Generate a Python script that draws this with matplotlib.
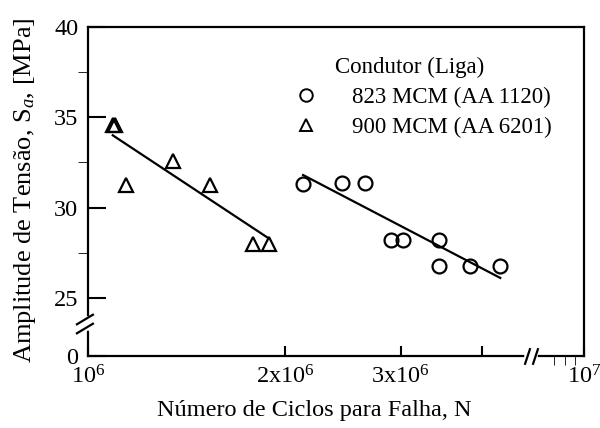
import numpy as np
import matplotlib
matplotlib.use('Agg')
import matplotlib.pyplot as plt
from matplotlib.lines import Line2D

plt.rcParams['font.family'] = ['Liberation Serif', 'DejaVu Serif']
plt.rcParams['mathtext.fontset'] = 'custom'
plt.rcParams['mathtext.rm'] = 'Liberation Serif'
plt.rcParams['mathtext.it'] = 'Liberation Serif:italic'

# 823 MCM (AA 1120) -> circles
n_1120 = [2.13e6, 2.44e6, 2.65e6, 2.90e6, 3.03e6, 3.43e6, 3.43e6, 3.83e6, 4.25e6]
s_1120 = [31.3, 31.35, 31.35, 28.2, 28.2, 28.2, 26.75, 26.75, 26.75]
fit_n_1120 = [2.13e6, 4.26e6]
fit_s_1120 = [31.8, 26.1]

# 900 MCM (AA 6201) -> triangles
n_6201 = [1.093e6, 1.10e6, 1.142e6, 1.35e6, 1.536e6, 1.786e6, 1.891e6]
s_6201 = [34.55, 34.55, 31.25, 32.55, 31.25, 28.0, 28.0]
fit_n_6201 = [1.091e6, 1.877e6]
fit_s_6201 = [34.0, 28.35]

xticks = [1e6, 2e6, 3e6, 4e6, 1e7]
xtick_labels = ['$10^6$', '2x10$^6$', '3x10$^6$', '', '$10^7$']
xticks_minor = [7e6, 8e6, 9e6]
yticks = [0, 25, 30, 35, 40]
yticks_minor = [27.5, 32.5, 37.5]

# broken axes: log x squeezed after x_break, y squeezed below 25
x_break = 4.5e6
x_k = 0.3
y_gap = 25
y_c = 0.129


def fwd_x(x):
    lx = np.log10(np.clip(np.asarray(x, float), 1e-12, None))
    lb = np.log10(x_break)
    return np.where(lx <= lb, lx, lb + (lx - lb) * x_k)


def inv_x(u):
    u = np.asarray(u, float)
    lb = np.log10(x_break)
    with np.errstate(over='ignore'):
        return np.where(u <= lb, 10 ** u, 10 ** (lb + (u - lb) / x_k))


def fwd_y(y):
    y = np.asarray(y, float)
    return np.where(y >= y_gap, y, y_gap - (y_gap - y) * y_c)


def inv_y(f):
    f = np.asarray(f, float)
    return np.where(f >= y_gap, f, y_gap - (y_gap - f) / y_c)


fig = plt.figure(figsize=(6, 4.28), dpi=100)
ax = fig.add_axes([88 / 600, 72 / 428, 496 / 600, 329 / 428])
ax.set_xscale('function', functions=(fwd_x, inv_x))
ax.set_yscale('function', functions=(fwd_y, inv_y))

ax.plot(n_1120, s_1120, 'o', ms=10, mfc='none', mec='k', mew=1.6, zorder=3)
ax.plot(n_6201, s_6201, '^', ms=9.5, mfc='none', mec='k', mew=1.6, zorder=3)
ax.plot(fit_n_1120, fit_s_1120, 'k-', lw=1.6)
ax.plot(fit_n_6201, fit_s_6201, 'k-', lw=1.6)

ax.set_xlim(1e6, 1e7)
ax.set_ylim(0, 40)
ax.set_xticks(xticks, labels=xtick_labels)
ax.set_xticks(xticks_minor, minor=True)
ax.set_yticks(yticks)
ax.set_yticks(yticks_minor, minor=True)
ax.yaxis.set_major_formatter(plt.FixedFormatter([str(v) for v in yticks]))
ax.yaxis.set_minor_formatter(plt.NullFormatter())
ax.xaxis.set_minor_formatter(plt.NullFormatter())

ax.tick_params(direction='in', labelsize=17.5, width=1.5)
ax.tick_params(axis='y', which='major', length=13, pad=7)
ax.tick_params(axis='y', which='minor', length=7)
ax.tick_params(axis='x', which='major', length=7, pad=7)
ax.tick_params(axis='x', which='minor', length=6.5)
for sp in ax.spines.values():
    sp.set_linewidth(1.6)

# break marks
yb = [12.0, 16.0]
ax.plot([1e6, 1e6], yb, color='white', lw=4, clip_on=False, zorder=5)
ax.plot([1e6, 1e6], yb, ls='none', marker=[(-1.4, -0.6), (0.6, 0.6)], ms=18, mec='k', mew=1.6,
        clip_on=False, zorder=6)
xb = [5.1e6, 5.6e6]
ax.plot(xb, [0, 0], color='white', lw=4, clip_on=False, zorder=5)
ax.plot(xb, [0, 0], ls='none', marker=[(-0.33, -1), (0.33, 1)], ms=12, mec='k', mew=1.6,
        clip_on=False, zorder=6)

ax.set_xlabel('Número de Ciclos para Falha, N', fontsize=17.5)
ax.xaxis.set_label_coords(0.456, -0.135)
ax.set_ylabel('Amplitude de Tensão, S$_{\\mathit{a}}$, [MPa]', fontsize=19)
ax.yaxis.set_label_coords(-0.10, 0.505)

ax.text(0.498, 0.878, 'Condutor (Liga)', transform=ax.transAxes, fontsize=16.5,
        ha='left', va='center')
handles = [Line2D([], [], ls='none', marker='o', ms=9, mfc='none', mec='k', mew=1.4),
           Line2D([], [], ls='none', marker='^', ms=8.5, mfc='none', mec='k', mew=1.4)]
ax.legend(handles, ['823 MCM (AA 1120)', '900 MCM (AA 6201)'],
          frameon=False, fontsize=16.5, loc='upper left',
          bbox_to_anchor=(0.417, 0.817), borderpad=0, borderaxespad=0,
          handlelength=1, handletextpad=1.5, labelspacing=0.38)

plt.savefig('out.png', dpi=100)
